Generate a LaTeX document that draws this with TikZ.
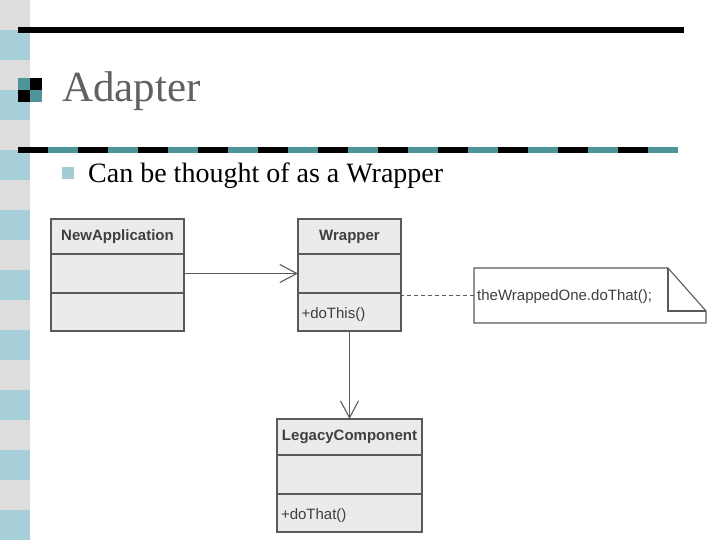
\documentclass[tikz,border=0pt]{standalone}
\usepackage{fontspec}
\setmainfont{Liberation Serif}
\newfontfamily\umlfont{Liberation Sans}
\usetikzlibrary{arrows.meta}
\definecolor{stripeblue}{HTML}{A7CFD9}
\definecolor{stripegrey}{HTML}{DDDDDD}
\definecolor{teal2}{HTML}{4E9499}
\definecolor{titlegrey}{HTML}{616161}
\definecolor{bulletblue}{HTML}{A3CCD0}
\definecolor{boxfill}{HTML}{EBEBEB}
\definecolor{boxline}{HTML}{5A5A5A}
\definecolor{umltext}{HTML}{3F3F3F}
\newcommand{\lowertext}[1]{\raisebox{-3pt}[\height][\depth]{#1}}
\tikzset{
  cmp/.style={draw=boxline, fill=boxfill, line width=1.4pt, inner sep=0pt, outer sep=0pt, anchor=north, font=\umlfont\fontsize{15}{18}\selectfont, text=umltext},
  hdr/.style={cmp, font=\umlfont\bfseries\fontsize{15}{18}\selectfont},
  ops/.style={cmp, align=left, inner xsep=3.5pt},
  link/.style={draw=boxline, line width=1.1pt},
  openarrow/.style={link, -{Straight Barb[length=17pt,width=18pt,line width=1.1pt]}},
}
\begin{document}
\begin{tikzpicture}[x=1pt,y=-1pt]
\useasboundingbox (0,0) rectangle (720,540);
% left stripe
\foreach \k in {0,...,17}{
  \pgfmathparse{mod(\k,2)==0 ? "stripegrey" : "stripeblue"}
  \fill[\pgfmathresult] (0,30*\k) rectangle (30,30*\k+30);
}
% top rule
\fill[black] (18,27) rectangle (684,33);
% dashed rule
\foreach \k in {0,...,21}{
  \pgfmathparse{mod(\k,2)==0 ? "black" : "teal2"}
  \fill[\pgfmathresult] (18+30*\k,147) rectangle (48+30*\k,153);
}
% title bullet
\fill[teal2] (18,78) rectangle (30,90);
\fill[black] (30,78) rectangle (42,90);
\fill[black] (18,90) rectangle (30,102);
\fill[teal2] (30,90) rectangle (42,102);
\node[anchor=base west, inner sep=0pt, text=titlegrey, font=\fontsize{43}{50}\selectfont] (title) at (62,102) {Adapter};
% sub bullet
\fill[bulletblue] (62,167) rectangle (74,179);
\node[anchor=base west, inner sep=0pt, font=\fontsize{28}{34}\selectfont] (sub) at (88,183) {Can be thought of as a Wrapper};

% NewApplication
\node[hdr, minimum width=133pt, minimum height=35pt] (na-h) at (117.5,219) {NewApplication};
\node[cmp, minimum width=133pt, minimum height=39pt] (na-a) at (na-h.south) {};
\node[cmp, minimum width=133pt, minimum height=38pt] (na-o) at (na-a.south) {};
% Wrapper
\node[hdr, minimum width=103pt, minimum height=35pt] (wr-h) at (349.5,219) {Wrapper};
\node[cmp, minimum width=103pt, minimum height=39pt] (wr-a) at (wr-h.south) {};
\node[ops, minimum width=103pt, minimum height=38pt, text width=96pt] (wr-o) at (wr-a.south) {\lowertext{+doThis()}};
% LegacyComponent
\node[hdr, minimum width=145pt, minimum height=36pt] (lc-h) at (349.5,419) {LegacyComponent};
\node[cmp, minimum width=145pt, minimum height=39pt] (lc-a) at (lc-h.south) {};
\node[ops, minimum width=145pt, minimum height=38pt, text width=137pt, inner xsep=4pt] (lc-o) at (lc-a.south) {\lowertext{+doThat()}};

% note
\node[inner sep=0pt, outer sep=0pt, minimum width=232pt, minimum height=55pt] (note) at (590,295.5) {};
\draw[draw=boxline, fill=white, line width=1.1pt]
  (note.south west) -- (note.north west) -- ([xshift=-38pt]note.north east)
  -- ([yshift=12pt]note.south east) -- (note.south east) -- cycle;
\draw[draw=boxline, line width=1.1pt]
  ([xshift=-38pt]note.north east) -- ([xshift=-38pt,yshift=12pt]note.south east) -- ([yshift=12pt]note.south east);
\node[anchor=west, inner sep=0pt, font=\umlfont\fontsize{15}{18}\selectfont, text=umltext] (notetext) at ([xshift=3pt,yshift=-1pt]note.west) {theWrappedOne.doThat();};

% connectors
\draw[openarrow] (na-a.east) -- (wr-a.west);
\draw[openarrow] (wr-o.south) -- (lc-h.north);
\draw[link, dashed, dash pattern=on 4pt off 3pt, line width=0.9pt] (note.west) -- (note.west -| wr-o.east);
\end{tikzpicture}
\end{document}
